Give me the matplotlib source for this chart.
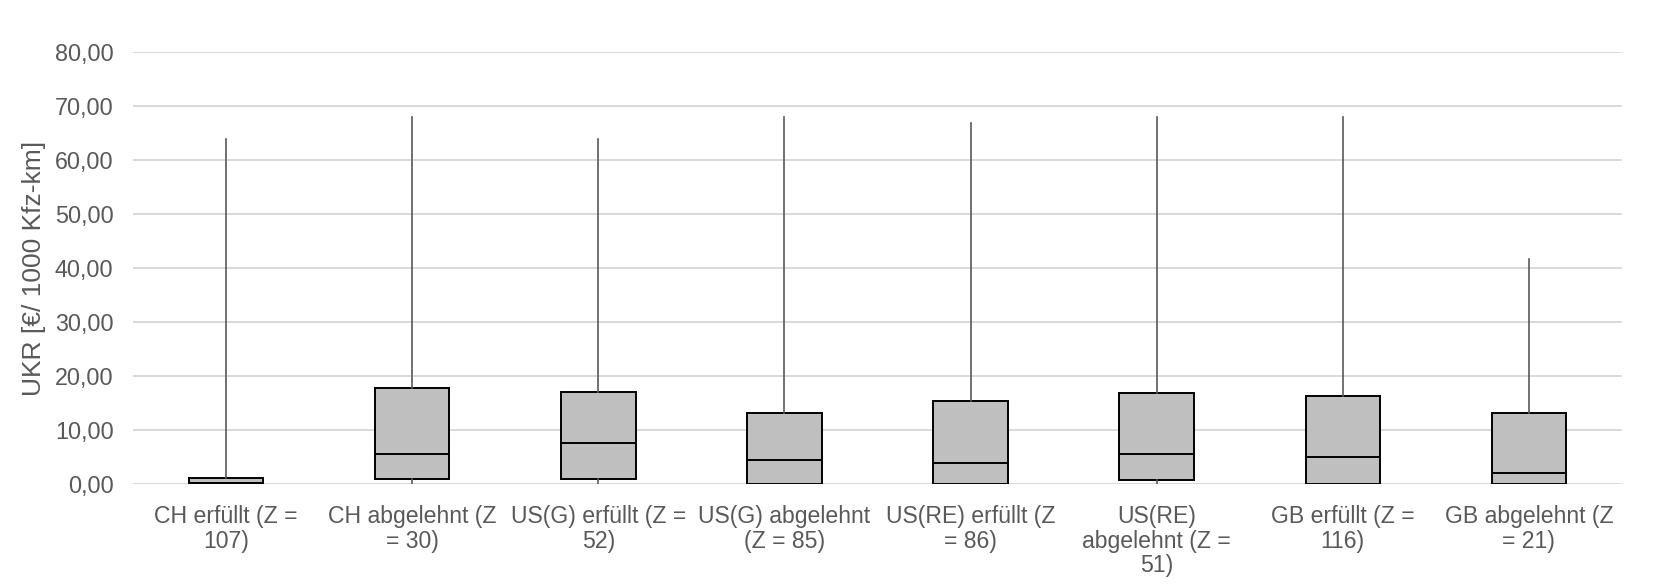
import matplotlib.pyplot as plt
import numpy as np

plt.rcParams['font.family'] = ['Liberation Sans', 'DejaVu Sans']

labels = ['CH erfüllt (Z =\n107)', 'CH abgelehnt (Z\n= 30)', 'US(G) erfüllt (Z =\n52)',
          'US(G) abgelehnt\n(Z = 85)', 'US(RE) erfüllt (Z\n= 86)', 'US(RE)\nabgelehnt (Z =\n51)',
          'GB erfüllt (Z =\n116)', 'GB abgelehnt (Z\n= 21)']
whisk_lo = [0.0, 0.0, 0.0, 0.0, 0.0, 0.0, 0.0, 0.0]
q1 = [0.2, 0.9, 1.0, 0.0, 0.0, 0.8, 0.0, 0.0]
med = [0.2, 5.6, 7.6, 4.4, 3.9, 5.6, 5.0, 2.1]
q3 = [1.1, 17.8, 17.1, 13.1, 15.4, 16.9, 16.3, 13.1]
whisk_hi = [63.8, 67.9, 63.8, 67.9, 66.9, 67.9, 67.9, 41.6]

txt_col = '#595959'

stats = []
for i in range(len(labels)):
    stats.append({'label': labels[i], 'whislo': whisk_lo[i], 'q1': q1[i], 'med': med[i],
                  'q3': q3[i], 'whishi': whisk_hi[i], 'fliers': []})

fig = plt.figure(figsize=(16.6, 5.85), dpi=100)
ax = fig.add_axes([0.0801, 0.1726, 0.897, 0.7385])

ax.bxp(stats, positions=np.arange(len(labels)), widths=0.4, showcaps=False,
       showfliers=False, patch_artist=True,
       boxprops=dict(facecolor='#BFBFBF', edgecolor='black', linewidth=1.4),
       medianprops=dict(color='black', linewidth=1.4),
       whiskerprops=dict(color='#595959', linewidth=1.2))

ax.set_xlim(-0.5, len(labels) - 0.5)
ax.set_ylim(0, 80)
yt = np.arange(0, 81, 10)
ax.set_yticks(yt)
ax.set_yticklabels([f'{v:.2f}'.replace('.', ',') for v in yt])
ax.yaxis.grid(True, color='#D9D9D9', linewidth=1.4)
ax.set_axisbelow(True)
for s in ax.spines.values():
    s.set_visible(False)
ax.tick_params(axis='both', length=0, colors=txt_col)
ax.tick_params(axis='y', pad=14, labelsize=16.8)
ax.tick_params(axis='x', pad=15, labelsize=16.6)
for t in ax.get_xticklabels():
    t.set_linespacing(1.1)

ax.set_ylabel('UKR [€/ 1000 Kfz-km]', fontsize=19, color=txt_col, labelpad=6)

fig.savefig('out.png', dpi=100)
